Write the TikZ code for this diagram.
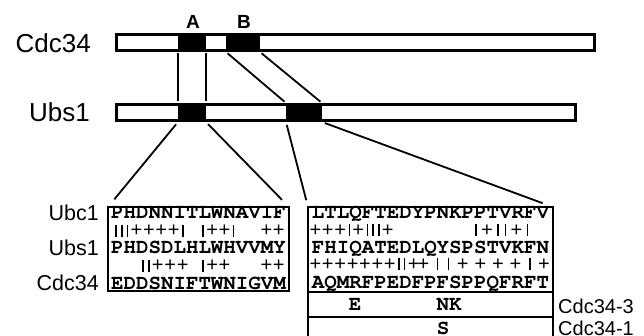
\documentclass[tikz,border=0pt]{standalone}
\usepackage{fontspec}
\setmainfont{Liberation Sans}
\newfontfamily\seqfont{texgyrecursor}[Extension=.otf,UprightFont=*-regular,BoldFont=*-bold]
\newcommand\Mplus{\makebox[12.4pt]{\fontsize{20}{20}\selectfont+}}
\newcommand\Mbar{\makebox[5.7pt]{\rule[0pt]{1.5pt}{12pt}}}
\tikzset{
  protbar/.style={draw=black,line width=3pt,fill=white,inner sep=0pt,outer sep=0pt},
  blockfill/.style={fill=black,inner sep=0pt,outer sep=0pt},
  link/.style={line width=1.8pt},
  alnbox/.style={draw=black,line width=2pt,inner sep=0pt,outer sep=0pt},
  seqtext/.style={font=\seqfont\bfseries\fontsize{20.8}{22}\selectfont,inner sep=0pt,anchor=base},
  matchtext/.style={inner sep=0pt,anchor=west},
  namelabel/.style={font=\fontsize{26}{28}\selectfont,inner sep=0pt,anchor=east},
  rowlabel/.style={font=\fontsize{21.5}{23}\selectfont,inner sep=0pt,anchor=east},
  mutlabel/.style={font=\fontsize{20}{22}\selectfont,inner sep=0pt,anchor=west},
  domlabel/.style={font=\bfseries\fontsize{19}{21}\selectfont,inner sep=0pt},
}
\begin{document}
\begin{tikzpicture}[x=1pt,y=-1pt]
\useasboundingbox (0,0) rectangle (644,336);
% protein bars
\node[protbar,minimum width=478pt,minimum height=16pt] (cdcbar) at (355.5,42.5) {};
\node[protbar,minimum width=459pt,minimum height=16pt] (ubsbar) at (346,112.5) {};
\node[blockfill,minimum width=28pt,minimum height=19pt] (cA) at (192,42.5) {};
\node[blockfill,minimum width=34pt,minimum height=19pt] (cB) at (243,42.5) {};
\node[blockfill,minimum width=28pt,minimum height=19pt] (uA) at (192,112.5) {};
\node[blockfill,minimum width=36pt,minimum height=19pt] (uB) at (304,112.5) {};
% labels
\node[namelabel] (lcdc) at (91,43) {Cdc34};
\node[namelabel] (lubs) at (90,112) {Ubs1};
\node[domlabel] (lA) at (193,22) {A};
\node[domlabel] (lB) at (244,22) {B};
% alignment boxes
\node[alnbox,minimum width=181pt,minimum height=84pt] (box1) at (198.5,249) {};
\node[alnbox,minimum width=245pt,minimum height=85pt] (box2) at (430.5,249.5) {};
\node[alnbox,minimum width=245pt,minimum height=25pt] (mut3) at (430.5,304.5) {};
\node[alnbox,minimum width=245pt,minimum height=28pt] (mut1) at (430.5,331) {};
% connectors
\draw[link,shorten <=1.5pt,shorten >=1.5pt] (cA.south west) -- (uA.north west);
\draw[link,shorten <=1.5pt,shorten >=1.5pt] (cA.south east) -- (uA.north east);
\draw[link,shorten <=2pt,shorten >=2pt] (cB.south west) -- (uB.north west);
\draw[link,shorten <=2pt,shorten >=2pt] (cB.south east) -- (uB.north east);
\draw[link,shorten <=3pt,shorten >=10pt] (uA.south west) -- (box1.north west);
\draw[link,shorten <=3pt,shorten >=10pt] (uA.south east) -- (box1.north east);
\draw[link,shorten <=3pt,shorten >=7pt] (uB.south west) -- (box2.north west);
\draw[link,shorten <=3pt,shorten >=11pt] (uB.south east) -- (box2.north east);
% box 1 rows
\node[rowlabel] (r1) at (99,213) {Ubc1};
\node[rowlabel] (r2) at (99,248) {Ubs1};
\node[rowlabel] (r3) at (99,283) {Cdc34};
\node[seqtext] (s11) at (198.5,219) {PHDNNITLWNAVIF};
\node[seqtext] (s12) at (198.5,254) {PHDSDLHLWHVVMY};
\node[seqtext] (s13) at (198.5,289) {EDDSNIFTWNIGVM};
\node[matchtext] (m11) at (113,231) {\makebox[87pt][l]{\Mbar\Mbar\Mbar\Mplus\Mplus\Mplus\Mplus\Mbar}\makebox[60pt][l]{\Mbar\Mplus\Mplus\Mbar}\Mplus\Mplus};
\node[matchtext] (m12) at (140,265.5) {\makebox[60pt][l]{\Mbar\Mbar\Mplus\Mplus\Mplus}\makebox[60pt][l]{\Mbar\Mplus\Mplus}\Mplus\Mplus};
% box 2 rows
\node[seqtext] (s21) at (430.5,219) {LTLQFTEDYPNKPPTVRFV};
\node[seqtext] (s22) at (430.5,254) {FHIQATEDLQYSPSTVKFN};
\node[seqtext] (s23) at (430.5,288.5) {AQMRFPEDFPFSPPQFRFT};
\node[matchtext] (m21) at (309,230.5) {\makebox[164pt][l]{\Mplus\Mplus\Mplus\Mbar\Mplus\Mbar\Mbar\Mbar\Mplus}\makebox[57pt][s]{\Mbar\hfil\Mplus\hfil\Mbar\hfil\Mbar\hfil\Mplus\hfil\Mbar}};
\node[matchtext] (m22) at (309,264) {\makebox[108pt][l]{\Mplus\Mplus\Mplus\Mplus\Mplus\Mplus\Mplus\Mbar\Mbar\Mplus}\makebox[133pt][s]{\Mplus\hfil\Mbar\hfil\Mbar\hfil\Mplus\hfil\Mplus\hfil\Mplus\hfil\Mplus\hfil\Mbar\hfil\Mplus}};
% mutants
\node[seqtext] (e3) at (355,310.5) {E};
\node[seqtext] (nk3) at (449,310.5) {NK};
\node[seqtext] (s1) at (443,334) {S};
\node[mutlabel] (l3) at (558,306) {Cdc34-3};
\node[mutlabel] (l1) at (558,328) {Cdc34-1};
\end{tikzpicture}
\end{document}
